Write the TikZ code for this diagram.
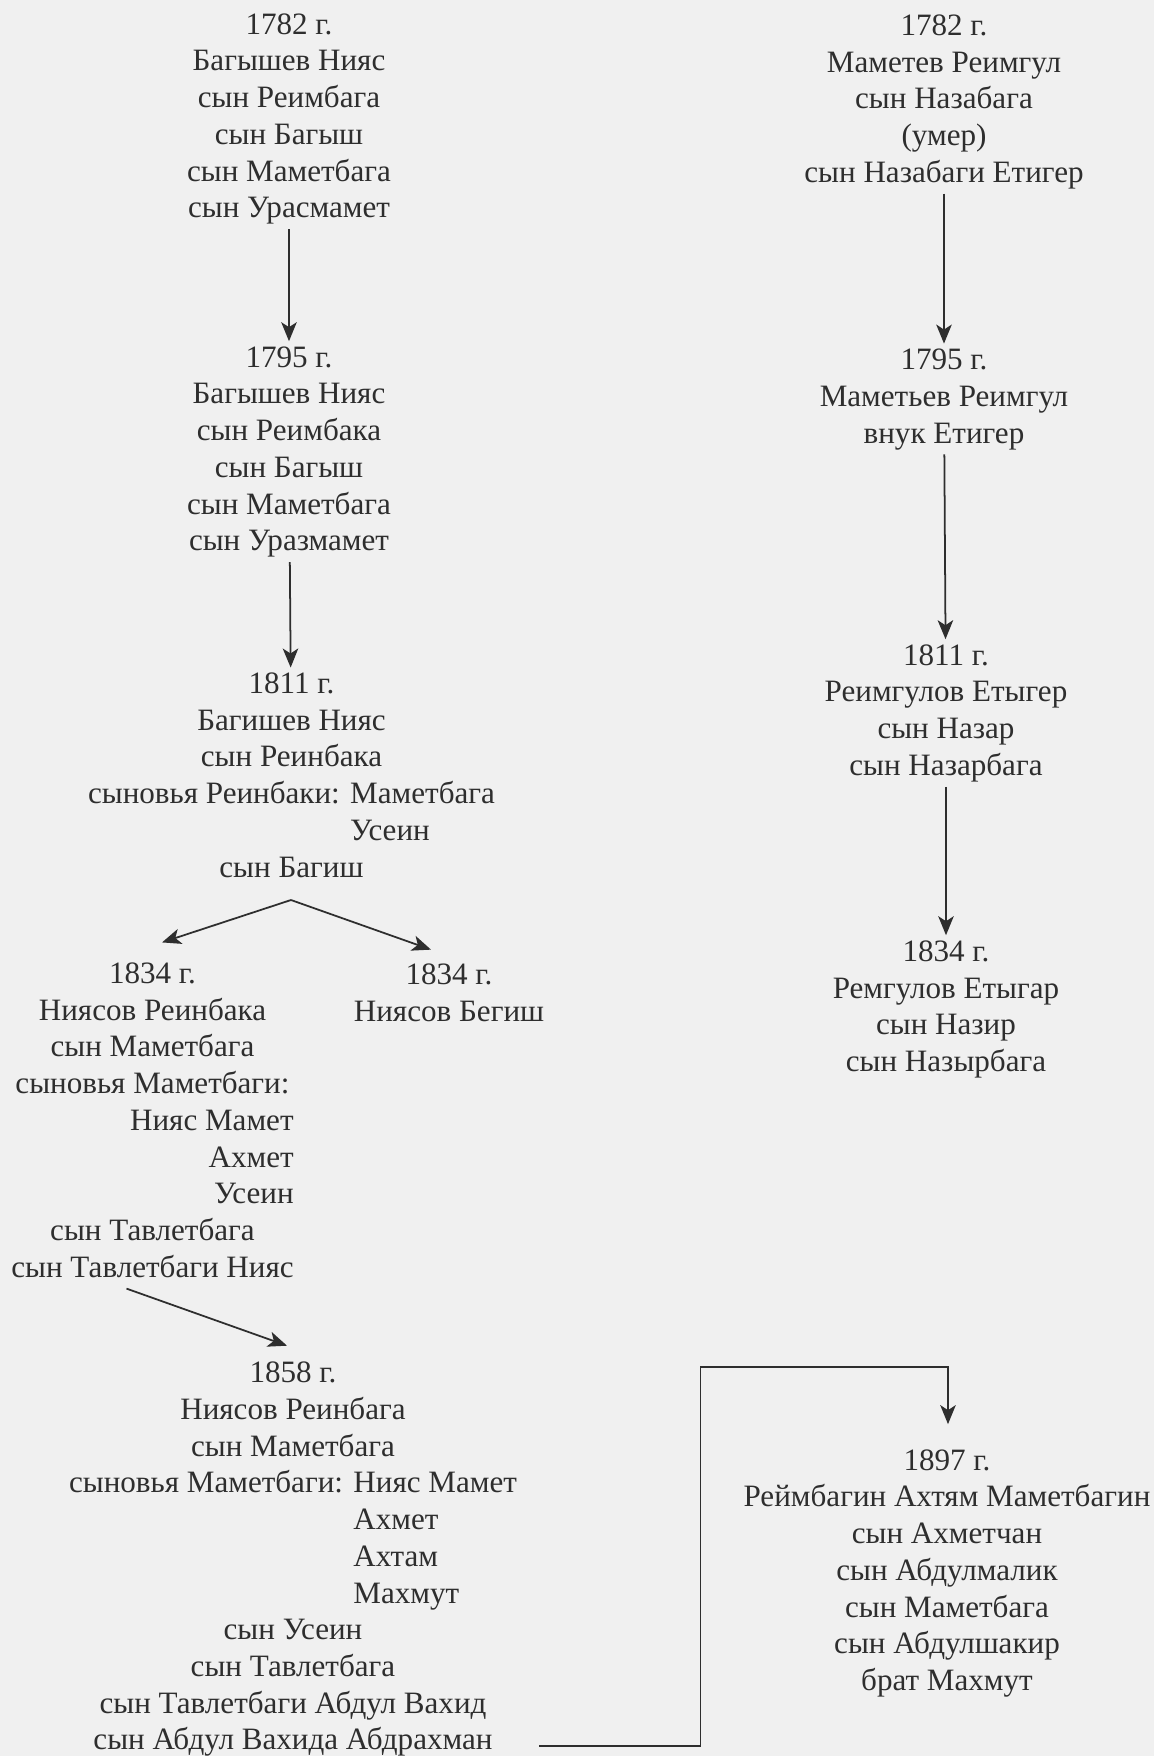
\documentclass[tikz,border=0pt]{standalone}
\usepackage{fontspec}
\setmainfont{Liberation Serif}
\usetikzlibrary{arrows.meta}
\definecolor{paper}{HTML}{F0F0F0}
\definecolor{ink}{HTML}{2E2E2E}
\newcommand{\yearblock}[1]{\begin{tabular}{@{}c@{}}#1\end{tabular}}
\newcommand{\flushl}[1]{\multicolumn{1}{@{}l@{}}{#1}}
\newcommand{\flushr}[1]{\multicolumn{1}{@{}r@{}}{#1}}
\tikzset{rec/.style={inner sep=0pt, text=ink, font=\fontsize{17.7}{20.9}\selectfont},
         arr/.style={draw=ink, line width=1pt, -{Stealth[length=0.38cm,width=0.31cm,inset=0.1cm]}}}

\begin{document}
\begin{tikzpicture}[x=0.02cm,y=-0.02cm]
\fill[paper] (0,0) rectangle (1154,1756);
\useasboundingbox (0,0) rectangle (1154,1756);
% left line
\node[rec] (l1782) at (289,118.7) {\yearblock{1782 г.\\ Багышев Нияс\\ сын Реимбага\\ сын Багыш\\ сын Маметбага\\ сын Урасмамет}};
\node[rec] (l1795) at (289,451.7) {\yearblock{1795 г.\\ Багышев Нияс\\ сын Реимбака\\ сын Багыш\\ сын Маметбага\\ сын Уразмамет}};
\node[rec] (l1811) at (291.5,778) {\yearblock{1811 г.\\ Багишев Нияс\\ сын Реинбака\\ сыновья Реинбаки: Маметбага\\ \flushl{\hphantom{сыновья Реинбаки: }Усеин}\\ сын Багиш}};
\node[rec] (l1834) at (152.5,1123) {\yearblock{1834 г.\\ Ниясов Реинбака\\ сын Маметбага\\ сыновья Маметбаги:\\ \flushr{Нияс Мамет}\\ \flushr{Ахмет}\\ \flushr{Усеин}\\ сын Тавлетбага\\ сын Тавлетбаги Нияс}};
\node[rec] (r1834b) at (449,995.7) {\yearblock{1834 г.\\ Ниясов Бегиш}};
\node[rec] (l1858) at (293,1559) {\yearblock{1858 г.\\ Ниясов Реинбага\\ сын Маметбага\\ сыновья Маметбаги: Нияс Мамет\\ \flushl{\hphantom{сыновья Маметбаги: }Ахмет}\\ \flushl{\hphantom{сыновья Маметбаги: }Ахтам}\\ \flushl{\hphantom{сыновья Маметбаги: }Махмут}\\ сын Усеин\\ сын Тавлетбага\\ сын Тавлетбаги Абдул Вахид\\ сын Абдул Вахида Абдрахман}};
% right line
\node[rec] (r1782) at (944,101.5) {\yearblock{1782 г.\\ Маметев Реимгул\\ сын Назабага\\ (умер)\\ сын Назабаги Етигер}};
\node[rec] (r1795) at (944,399) {\yearblock{1795 г.\\ Маметьев Реимгул\\ внук Етигер}};
\node[rec] (r1811) at (946,713) {\yearblock{1811 г.\\ Реимгулов Етыгер\\ сын Назар\\ сын Назарбага}};
\node[rec] (r1834) at (946,1009) {\yearblock{1834 г.\\ Ремгулов Етыгар\\ сын Назир\\ сын Назырбага}};
\node[rec] (r1897) at (947,1573) {\yearblock{1897 г.\\ Реймбагин Ахтям Маметбагин\\ сын Ахметчан\\ сын Абдулмалик\\ сын Маметбага\\ сын Абдулшакир\\ брат Махмут}};
% connectors
\draw[arr] (l1782) -- (l1795);
\draw[arr] (l1795) -- (l1811);
\coordinate (fork) at (291,900);
\coordinate (bend) at (700.5,1367);
\draw[arr] (fork) -- ([shift={(9.5,-15)}]l1834.north);
\draw[arr] (fork) -- ([shift={(-18,-9)}]r1834b.north);
\draw[arr] ([shift={(-26,0)}]l1834.south) -- ([shift={(-6,-11)}]l1858.north);
\draw[arr] ([shift={(22,-15)}]l1858.south east) -| (bend) -| ([shift={(1,-20)}]r1897.north);
\draw[arr] (r1782) -- (r1795);
\draw[arr] (r1795) -- (r1811);
\draw[arr] (r1811) -- (r1834);
\end{tikzpicture}
\end{document}
